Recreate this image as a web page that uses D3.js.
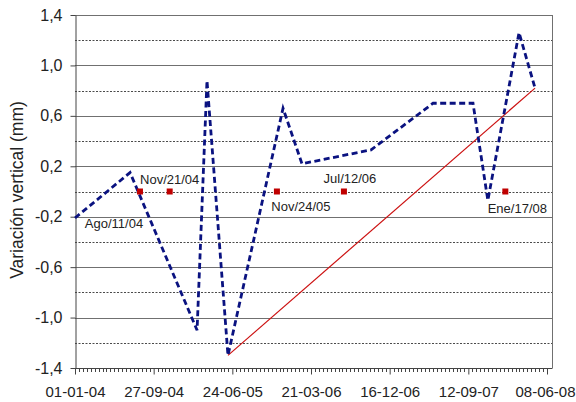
<!DOCTYPE html>
<html>
<head>
<meta charset="utf-8">
<script src="https://cdn.jsdelivr.net/npm/d3@7"></script>
<style>
  html, body { margin: 0; padding: 0; background: #fff; }
  svg { display: block; font-family: "Liberation Sans", Arial, sans-serif; }
</style>
</head>
<body>
<svg id="chart" width="576" height="402"></svg>
<script>
// ---- data ----
const seriesDates = ["2004-01-01","2004-07-08","2005-02-23","2005-03-29","2005-06-09","2005-12-15",
                     "2006-02-18","2006-10-13","2007-05-14","2007-09-28","2007-11-18","2008-03-04","2008-04-28"];
const seriesValues = [-0.21, 0.15, -1.10, 0.88, -1.30, 0.66, 0.22, 0.33, 0.70, 0.70, -0.07, 1.26, 0.82];

const trendDates = ["2005-06-09", "2008-04-28"];
const trendValues = [-1.30, 0.82];

const eventDates = ["2004-08-11", "2004-11-21", "2005-11-24", "2006-07-12", "2008-01-17"];
const eventValues = [0, 0, 0, 0, 0];
const eventLabels = ["Ago/11/04", "Nov/21/04", "Nov/24/05", "Jul/12/06", "Ene/17/08"];

const xTickDates = ["2004-01-01","2004-09-27","2005-06-24","2006-03-21","2006-12-16","2007-09-12","2008-06-08"];
const xTickLabels = ["01-01-04","27-09-04","24-06-05","21-03-06","16-12-06","12-09-07","08-06-08"];
const yMajorTicks = [-1.4, -1.0, -0.6, -0.2, 0.2, 0.6, 1.0, 1.4];
const yTickLabels = ["-1,4", "-1,0", "-0,6", "-0,2", "0,2", "0,6", "1,0", "1,4"];
const yMinorTicks = [-1.2, -0.8, -0.4, 0.0, 0.4, 0.8, 1.2];
const yTitle = "Variación vertical (mm)";

// ---- layout / styles ----
const parse = d3.utcParse("%Y-%m-%d");
const pLeft = 75, pRight = 552, pTop = 15, pBottom = 368;
const x = d3.scaleUtc().domain([parse(xTickDates[0]), parse(xTickDates[xTickDates.length - 1])]).range([pLeft, 547]);
const y = d3.scaleLinear().domain([-1.4, 1.4]).range([pBottom, pTop]);

// label offsets (styling, relative to marker)
const labelOffsets = [[-26, 36], [0, -8], [24, 19], [6, -9], [12, 21]];

const svg = d3.select("#chart");

// gridlines
svg.append("g").selectAll("line").data(yMinorTicks).join("line")
  .attr("x1", pLeft).attr("x2", pRight)
  .attr("y1", d => Math.round(y(d)) + 0.5).attr("y2", d => Math.round(y(d)) + 0.5)
  .attr("stroke", "#4a4a4a").attr("stroke-width", 1).attr("stroke-dasharray", "2,1.5");
svg.append("g").selectAll("line").data(yMajorTicks).join("line")
  .attr("x1", pLeft).attr("x2", pRight)
  .attr("y1", d => Math.round(y(d)) + 0.5).attr("y2", d => Math.round(y(d)) + 0.5)
  .attr("stroke", "#707070").attr("stroke-width", 1);

// plot frame (right border)
svg.append("line").attr("x1", pRight + 0.5).attr("x2", pRight + 0.5)
  .attr("y1", pTop).attr("y2", pBottom).attr("stroke", "#707070");

// y axis
const yAxis = d3.axisLeft(y).tickValues(yMajorTicks)
  .tickFormat((d, i) => yTickLabels[i]).tickSize(5).tickPadding(8).tickSizeOuter(0);
const gy = svg.append("g").attr("transform", `translate(${pLeft + 0.5},0)`).call(yAxis);
gy.select(".domain").attr("stroke", "#444");
gy.selectAll(".tick line").attr("stroke", "#444");
gy.selectAll("text").attr("font-size", 16).attr("fill", "#222")
  .attr("font-family", "Liberation Sans, Arial, sans-serif");

// x axis: minor ticks
const minor = [];
for (let i = 0; i < xTickDates.length - 1; i++) {
  const a = parse(xTickDates[i]).getTime(), b = parse(xTickDates[i + 1]).getTime();
  for (let k = 1; k < 20; k++) minor.push(new Date(a + (b - a) * k / 20));
}
svg.append("g").selectAll("line").data(minor).join("line")
  .attr("x1", d => Math.round(x(d)) + 0.5).attr("x2", d => Math.round(x(d)) + 0.5)
  .attr("y1", pBottom).attr("y2", pBottom + 4).attr("stroke", "#444");

const xAxis = d3.axisBottom(x).tickValues(xTickDates.map(parse))
  .tickFormat((d, i) => xTickLabels[i]).tickSize(6).tickPadding(12).tickSizeOuter(0);
const gx = svg.append("g").attr("transform", `translate(0,${pBottom + 0.5})`).call(xAxis);
gx.select(".domain").attr("stroke", "#444").attr("d", `M${pLeft},0H${pRight + 0.5}`);
gx.selectAll(".tick line").attr("stroke", "#444");
gx.selectAll("text").attr("font-size", 15).attr("fill", "#222")
  .attr("font-family", "Liberation Sans, Arial, sans-serif");
// keep the last label inside the picture
gx.selectAll(".tick").filter((d, i, n) => i === n.length - 1).select("text")
  .attr("text-anchor", "end").attr("dx", 28);

// y title
svg.append("text")
  .attr("transform", `translate(23,190) rotate(-90)`)
  .attr("text-anchor", "middle")
  .attr("font-size", 17.5).attr("fill", "#222")
  .text(yTitle);

// trend line (red)
const trend = trendDates.map((d, i) => ({ date: parse(d), value: trendValues[i] }));
svg.append("path").datum(trend)
  .attr("fill", "none").attr("stroke", "#cc1111").attr("stroke-width", 1.2)
  .attr("d", d3.line().x(d => x(d.date)).y(d => y(d.value)));

// main series (navy dashed)
const series = seriesDates.map((d, i) => ({ date: parse(d), value: seriesValues[i] }));
svg.append("path").datum(series)
  .attr("fill", "none").attr("stroke", "#0a1280").attr("stroke-width", 2.8)
  .attr("stroke-dasharray", "6,3.5").attr("stroke-linejoin", "miter")
  .attr("d", d3.line().x(d => x(d.date)).y(d => y(d.value)));

// event markers
const events = eventDates.map((d, i) => ({ date: parse(d), value: eventValues[i], label: eventLabels[i], off: labelOffsets[i] }));
svg.append("g").selectAll("rect").data(events).join("rect")
  .attr("x", d => x(d.date) - 3).attr("y", d => y(d.value) - 3)
  .attr("width", 6).attr("height", 6).attr("fill", "#c00000");
svg.append("g").selectAll("text").data(events).join("text")
  .attr("x", d => x(d.date) + d.off[0]).attr("y", d => y(d.value) + d.off[1])
  .attr("text-anchor", "middle").attr("font-size", 13).attr("fill", "#222")
  .text(d => d.label);
</script>
</body>
</html>
